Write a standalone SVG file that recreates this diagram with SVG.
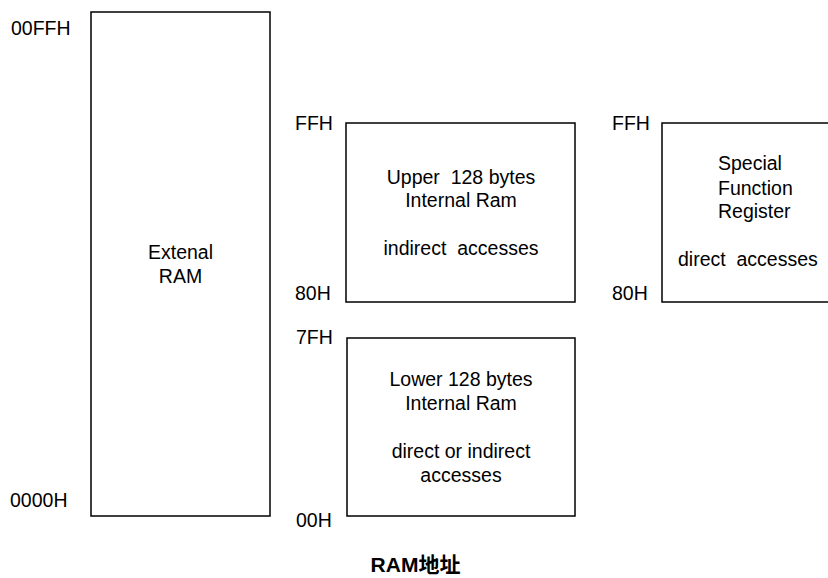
<svg xmlns="http://www.w3.org/2000/svg" width="828" height="578" viewBox="0 0 828 578">
<style>
rect{fill:#fff;stroke:#000;stroke-width:1.5}
text{font-family:"Liberation Sans",Arial,sans-serif;font-size:19.5px;fill:#000}
.c{text-anchor:middle}
.t{font-weight:bold;font-size:21px;font-family:"Liberation Sans","Noto Sans CJK SC",sans-serif}
</style>
<rect x="0" y="0" width="828" height="578" style="stroke:none"/>
<g id="external">
<rect x="91" y="12" width="179" height="504"/>
<text class="c" x="180.5" y="259">Extenal</text>
<text class="c" x="180.5" y="283">RAM</text>
<text x="11" y="35">00FFH</text>
<text x="10" y="507">0000H</text>
</g>
<g id="upper">
<rect x="346" y="123" width="229" height="179"/>
<text class="c" x="461" y="184" xml:space="preserve">Upper  128 bytes</text>
<text class="c" x="461" y="207">Internal Ram</text>
<text class="c" x="461" y="255" xml:space="preserve">indirect  accesses</text>
<text x="295" y="130">FFH</text>
<text x="295" y="300">80H</text>
</g>
<g id="sfr">
<rect x="662" y="123" width="180" height="179"/>
<text x="718" y="170">Special</text>
<text x="718" y="195">Function</text>
<text x="718" y="218">Register</text>
<text x="678" y="266" xml:space="preserve">direct  accesses</text>
<text x="612" y="130">FFH</text>
<text x="612" y="300">80H</text>
</g>
<g id="lower">
<rect x="347" y="338" width="228" height="178"/>
<text class="c" x="461" y="386">Lower 128 bytes</text>
<text class="c" x="461" y="410">Internal Ram</text>
<text class="c" x="461" y="458">direct or indirect</text>
<text class="c" x="461" y="482">accesses</text>
<text x="296" y="344">7FH</text>
<text x="296" y="527">00H</text>
</g>
<g id="connectors"></g>
<text class="c t" x="415.5" y="572">RAM地址</text>
</svg>
